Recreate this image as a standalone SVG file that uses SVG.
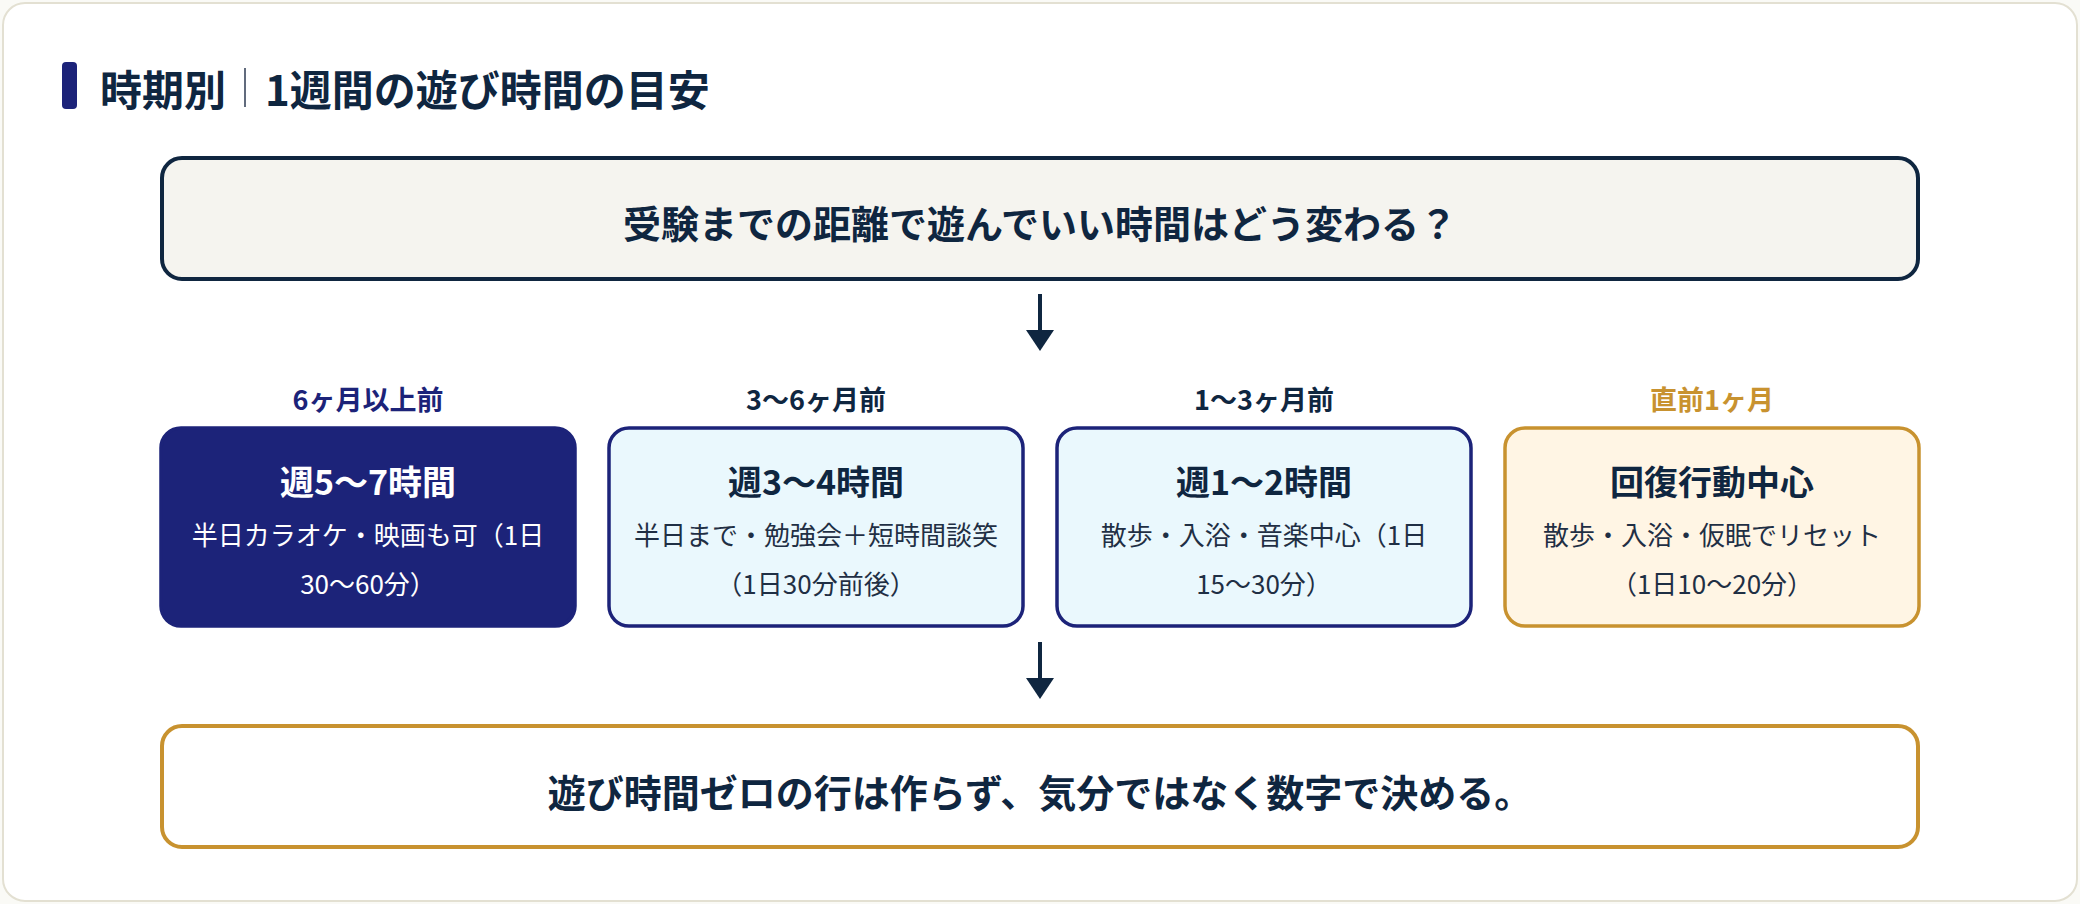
<svg xmlns="http://www.w3.org/2000/svg" width="2080" height="904" viewBox="0 0 2080 904">
<defs>
<style>
text{font-family:"Noto Sans CJK JP","Noto Sans",sans-serif;text-anchor:middle;dominant-baseline:central}
.h{font-weight:700;fill:#0f2640}
.lbl{font-size:27px;font-weight:700}
.bt{font-size:34px;font-weight:700}
.ds{font-size:26px;font-weight:400}
.lb{fill:#eaf8fd;stroke:#1c2379;stroke-width:3.5}
.cn{stroke:#0f2640;stroke-width:4;fill:none}
</style>
<marker id="ah" viewBox="0 0 21 28" refX="10" refY="14" markerWidth="21" markerHeight="28" markerUnits="userSpaceOnUse" orient="auto">
<path d="M0,0 L21,14 L0,28 z" fill="#0f2640"/>
</marker>
</defs>
<rect x="0" y="0" width="2080" height="904" fill="#fafaf6"/>
<rect x="3" y="3" width="2074" height="898" rx="22" fill="#ffffff" stroke="#e3e0d2" stroke-width="2"/>
<g id="title">
<rect x="62" y="62" width="15" height="47" rx="4" fill="#1c2379"/>
<text x="100" y="87" class="h" style="font-size:42px;text-anchor:start">時期別</text>
<line x1="245" y1="68" x2="245" y2="107" stroke="#2c3a52" stroke-width="1.5"/>
<text x="265" y="87" class="h" style="font-size:42px;text-anchor:start">1週間の遊び時間の目安</text>
</g>
<g id="question">
<rect x="162" y="158" width="1756" height="121" rx="20" fill="#f5f4ef" stroke="#0f2640" stroke-width="4"/>
<text x="1040" y="221" class="h" style="font-size:38px">受験までの距離で遊んでいい時間はどう変わる？</text>
</g>
<g id="connectors">
<line x1="1040" y1="294" x2="1040" y2="340" class="cn" marker-end="url(#ah)"/>
<line x1="1040" y1="642" x2="1040" y2="688" class="cn" marker-end="url(#ah)"/>
</g>
<g id="p1">
<text x="368" y="398" class="lbl" fill="#1c2379">6ヶ月以上前</text>
<rect x="161" y="428" width="414" height="198" rx="20" fill="#1c2379" stroke="#1c2379" stroke-width="3.5"/>
<text x="368" y="480" class="bt" fill="#ffffff">週5〜7時間</text>
<text x="368" y="533" class="ds" fill="#ffffff">半日カラオケ・映画も可（1日</text>
<text x="368" y="582" class="ds" fill="#ffffff">30〜60分）</text>
</g>
<g id="p2">
<text x="816" y="398" class="lbl" fill="#0f2640">3〜6ヶ月前</text>
<rect x="609" y="428" width="414" height="198" rx="20" class="lb"/>
<text x="816" y="480" class="bt" fill="#0f2640">週3〜4時間</text>
<text x="816" y="533" class="ds" fill="#1f2f44">半日まで・勉強会＋短時間談笑</text>
<text x="816" y="582" class="ds" fill="#1f2f44">（1日30分前後）</text>
</g>
<g id="p3">
<text x="1264" y="398" class="lbl" fill="#0f2640">1〜3ヶ月前</text>
<rect x="1057" y="428" width="414" height="198" rx="20" class="lb"/>
<text x="1264" y="480" class="bt" fill="#0f2640">週1〜2時間</text>
<text x="1264" y="533" class="ds" fill="#1f2f44">散歩・入浴・音楽中心（1日</text>
<text x="1264" y="582" class="ds" fill="#1f2f44">15〜30分）</text>
</g>
<g id="p4">
<text x="1712" y="398" class="lbl" fill="#c8922f">直前1ヶ月</text>
<rect x="1505" y="428" width="414" height="198" rx="20" fill="#fff5e4" stroke="#c8922f" stroke-width="3.5"/>
<text x="1712" y="480" class="bt" fill="#0f2640">回復行動中心</text>
<text x="1712" y="533" class="ds" fill="#1f2f44">散歩・入浴・仮眠でリセット</text>
<text x="1712" y="582" class="ds" fill="#1f2f44">（1日10〜20分）</text>
</g>
<g id="conclusion">
<rect x="162" y="726" width="1756" height="121" rx="20" fill="#ffffff" stroke="#c8922f" stroke-width="4"/>
<text x="1040" y="790" class="h" style="font-size:38px">遊び時間ゼロの行は作らず、気分ではなく数字で決める。</text>
</g>
</svg>
